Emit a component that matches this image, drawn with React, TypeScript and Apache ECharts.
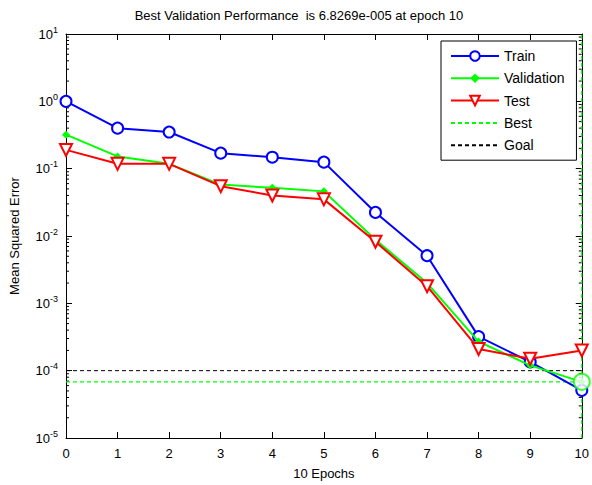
import React, { useEffect, useRef } from "react";
import * as echarts from "echarts";

const epochs = [0, 1, 2, 3, 4, 5, 6, 7, 8, 9, 10];
const train = [1.0, 0.4, 0.35, 0.17, 0.148, 0.125, 0.0224, 0.0051, 3.2e-4, 1.35e-4, 5.1e-5];
const validation = [0.32, 0.152, 0.118, 0.058, 0.052, 0.046, 0.0088, 0.002, 2.7e-4, 1.2e-4, 6.8269e-5];
const test = [0.19, 0.118, 0.118, 0.055, 0.04, 0.035, 0.0082, 0.0018, 2.1e-4, 1.5e-4, 2.0e-4];
const bestValue = 6.8269e-5;
const bestEpoch = 10;
const goalValue = 1e-4;
const yMin = 1e-5;
const yMax = 10;
const minorMantissas = [2, 3, 4, 5, 6, 7, 8, 9];
const decadeExponents = [-5, -4, -3, -2, -1, 0];
const titleText = "Best Validation Performance  is 6.8269e-005 at epoch 10";

const FONT = "'Liberation Sans', Arial, sans-serif";

export default function App() {
  const ref = useRef<HTMLDivElement>(null);
  useEffect(() => {
    if (!ref.current) return;
    const chart = echarts.init(ref.current, null, { renderer: "svg" });
    const minorTicks: number[][] = [];
    decadeExponents.forEach((e) =>
      minorMantissas.forEach((m) => minorTicks.push([0, m * Math.pow(10, e)]))
    );
    const pts = (arr: number[]) => epochs.map((x, i) => [x, arr[i]]);
    const option: any = {
      animation: false,
      backgroundColor: "#ffffff",
      textStyle: { fontFamily: FONT },
      title: {
        text: titleText,
        left: 294,
        textAlign: "center",
        top: 4,
        textStyle: { fontSize: 13, fontWeight: "normal", color: "#000", fontFamily: FONT },
      },
      grid: { left: 66, top: 34, right: 5, bottom: 44, containLabel: false },
      legend: {
        left: 441,
        top: 41,
        orient: "vertical",
        data: [
          { name: "Train" },
          { name: "Validation" },
          { name: "Test" },
          { name: "Best", itemStyle: { opacity: 0 } },
          { name: "Goal", itemStyle: { opacity: 0 } },
        ],
        borderColor: "#000",
        borderWidth: 1,
        backgroundColor: "#fff",
        padding: [8, 12, 8, 9],
        itemWidth: 48,
        itemHeight: 12,
        itemGap: 8.3,
        textStyle: { fontSize: 14, color: "#000", fontFamily: FONT },
      },
      xAxis: [
        {
          type: "value",
          min: 0,
          max: 10,
          interval: 1,
          name: "10 Epochs",
          nameLocation: "middle",
          nameGap: 29,
          nameTextStyle: { fontSize: 13, color: "#000", fontFamily: FONT },
          axisLine: { onZero: false, lineStyle: { color: "#000", width: 1 } },
          axisTick: { inside: true, length: 6, lineStyle: { color: "#000" } },
          axisLabel: { fontSize: 13, color: "#000", margin: 9, fontFamily: FONT },
          splitLine: { show: false },
        },
        {
          type: "value",
          position: "top",
          min: 0,
          max: 10,
          interval: 1,
          axisLine: { onZero: false, lineStyle: { color: "#000", width: 1 } },
          axisTick: { inside: true, length: 6, lineStyle: { color: "#000" } },
          axisLabel: { show: false },
          splitLine: { show: false },
        },
      ],
      yAxis: [
        {
          type: "log",
          logBase: 10,
          min: yMin,
          max: yMax,
          splitNumber: 6,
          name: "Mean Squared Error",
          nameLocation: "middle",
          nameGap: 45,
          nameTextStyle: { fontSize: 13, color: "#000", fontFamily: FONT },
          axisLine: { onZero: false, lineStyle: { color: "#000", width: 1 } },
          axisTick: { inside: true, length: 6, lineStyle: { color: "#000" } },
          axisLabel: {
            margin: 8,
            color: "#000",
            formatter: (v: number) => `{b|10}{s|${Math.round(Math.log10(v))}}`,
            rich: {
              b: { fontSize: 13, color: "#000", fontFamily: FONT },
              s: { fontSize: 9, color: "#000", fontFamily: FONT, padding: [0, 0, 9, 0] },
            },
          },
          splitLine: { show: false },
        },
        {
          type: "log",
          logBase: 10,
          min: yMin,
          max: yMax,
          splitNumber: 6,
          position: "right",
          axisLine: { onZero: false, lineStyle: { color: "#000", width: 1 } },
          axisTick: { inside: true, length: 6, lineStyle: { color: "#000" } },
          axisLabel: { show: false },
          splitLine: { show: false },
        },
      ],
      series: [
        {
          type: "custom",
          name: "minorTicks",
          silent: true,
          clip: false,
          data: minorTicks,
          renderItem: (params: any, api: any) => {
            const yv = api.value(1);
            const l = api.coord([0, yv]);
            const r = api.coord([10, yv]);
            return {
              type: "group",
              children: [
                { type: "line", shape: { x1: l[0], y1: l[1], x2: l[0] + 3, y2: l[1] }, style: { stroke: "#000", lineWidth: 1 } },
                { type: "line", shape: { x1: r[0], y1: r[1], x2: r[0] - 3, y2: r[1] }, style: { stroke: "#000", lineWidth: 1 } },
              ],
            };
          },
          z: 1,
        },
        {
          name: "Goal",
          type: "line",
          data: [[0, goalValue], [10, goalValue]],
          symbol: "none",
          lineStyle: { color: "#000", width: 1, type: [4, 3] },
          itemStyle: { color: "#000" },
          z: 2,
        },
        {
          name: "Best",
          type: "line",
          data: [[0, bestValue], [10, bestValue]],
          symbol: "none",
          lineStyle: { color: "#00ff00", width: 1.2, type: [4, 3] },
          itemStyle: { color: "#00ff00" },
          z: 2,
        },
        {
          name: "Best",
          type: "line",
          data: [[bestEpoch, yMin], [bestEpoch, yMax]],
          symbol: "none",
          lineStyle: { color: "#00ff00", width: 1.2, type: [4, 3] },
          itemStyle: { color: "#00ff00" },
          z: 2,
        },
        {
          name: "Train",
          type: "line",
          data: pts(train),
          symbol: "emptyCircle",
          symbolSize: 11,
          lineStyle: { color: "#0000ff", width: 2 },
          itemStyle: { color: "#0000ff", borderWidth: 2 },
          z: 3,
        },
        {
          name: "Validation",
          type: "line",
          data: pts(validation),
          symbol: "diamond",
          symbolSize: 8,
          lineStyle: { color: "#00ff00", width: 2 },
          itemStyle: { color: "#00ff00" },
          z: 4,
        },
        {
          name: "Test",
          type: "line",
          data: pts(test),
          symbol: "emptyTriangle",
          symbolRotate: 180,
          symbolSize: 12,
          lineStyle: { color: "#ff0000", width: 2 },
          itemStyle: { color: "#ff0000", borderWidth: 1.5 },
          showAllSymbol: true,
          z: 5,
        },
        {
          name: "bestPoint",
          type: "scatter",
          data: [[bestEpoch, bestValue]],
          symbol: "emptyCircle",
          symbolSize: 16,
          itemStyle: { color: "#00ff00", borderWidth: 1.5 },
          z: 6,
          clip: false,
        },
      ],
    };
    chart.setOption(option);
    return () => chart.dispose();
  }, []);
  return (
    <div
      ref={ref}
      style={{ position: "absolute", left: 0, top: 0, width: 592, height: 485 }}
    />
  );
}
